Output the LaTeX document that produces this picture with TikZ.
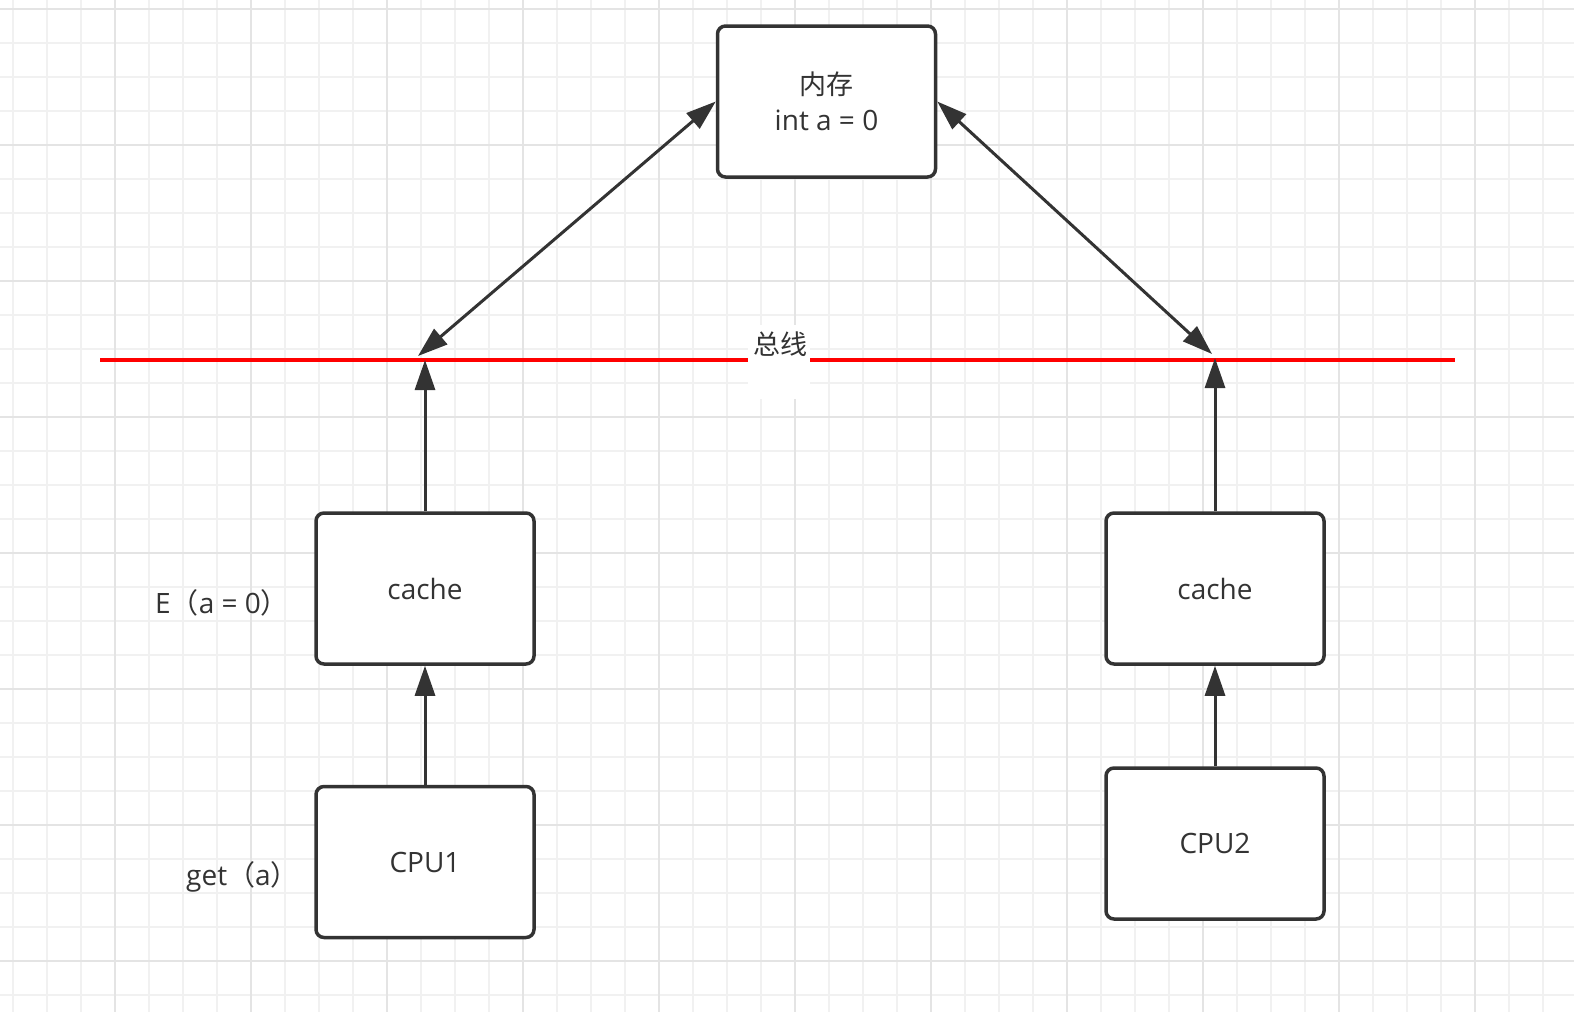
\documentclass[tikz,border=0pt]{standalone}
\usepackage{fontspec}
\setmainfont{Open Sans}
\newfontfamily\cjk{Noto Sans CJK SC}
\usetikzlibrary{arrows.meta}
\definecolor{ink}{HTML}{333333}
\definecolor{gridminor}{HTML}{F1F1F1}
\definecolor{gridmajor}{HTML}{E4E4E4}
\definecolor{busred}{HTML}{FF0000}
\tikzset{
  box/.style={draw=ink, line width=3.5pt, rounded corners=8pt, fill=white,
    minimum width=218pt, minimum height=151pt, inner sep=0pt, text=ink,
    font=\fontsize{28}{36}\selectfont, align=center},
  lbl/.style={text=ink, font=\fontsize{28}{30}\selectfont, inner sep=0pt},
  arr/.style={draw=ink, line width=3pt, -{Triangle[length=30pt,width=20pt]}},
  darr/.style={draw=ink, line width=3pt, {Triangle[length=30pt,width=20pt]}-{Triangle[length=30pt,width=20pt]}},
}
\begin{document}
\begin{tikzpicture}[x=1pt,y=-1pt]
\useasboundingbox (0,0) rectangle (1574,1012);
\fill[white] (0,0) rectangle (1574,1012);
% grid
\foreach \gx in {13,47,...,1574} {\draw[gridminor, line width=1.2pt] (\gx,0) -- (\gx,1012);}
\foreach \gy in {9,43,...,1012} {\draw[gridminor, line width=1.2pt] (0,\gy) -- (1574,\gy);}
\foreach \gx in {115,251,...,1574} {\draw[gridmajor, line width=1.4pt] (\gx,0) -- (\gx,1012);}
\foreach \gy in {9,145,...,1012} {\draw[gridmajor, line width=1.4pt] (0,\gy) -- (1574,\gy);}
% bus
\coordinate (busL) at (100,360);
\coordinate (busR) at (1455,360);
\draw[busred, line width=4pt] (busL) -- (busR);
\fill[white] (748,325) rectangle (810,399);
\node[lbl, font=\fontsize{27}{30}\selectfont] (bus) at (780,344) {\cjk 总线};
\coordinate (busA) at (425,360);
\coordinate (busB) at (1215,358);
\coordinate (busC) at (418,356);
\coordinate (busD) at (1212,354);
% boxes
\node[box] (mem) at (826.5,101.5) {{\cjk\fontsize{27}{36}\selectfont 内存}\\int a = 0};
\node[box] (cache1) at (425,588.5) {cache};
\node[box] (cpu1) at (425,862) {CPU1};
\node[box] (cache2) at (1215,588.5) {cache};
\node[box] (cpu2) at (1215,843.5) {CPU2};
% labels
\node[lbl, anchor=west] (stateE) at (155,603) {E{\cjk （}a = 0{\cjk ）}};
\node[lbl, anchor=west] (geta) at (186,877) {get{\cjk （}a{\cjk ）}};
% connectors
\draw[arr] (cpu1.north) -- (cache1.south);
\draw[arr] (cache1.north) -- (busA);
\draw[arr] (cpu2.north) -- (cache2.south);
\draw[arr] (cache2.north) -- (busB);
\draw[darr] (busC) -- (mem.west);
\draw[darr] (busD) -- (mem.east);
\end{tikzpicture}
\end{document}
